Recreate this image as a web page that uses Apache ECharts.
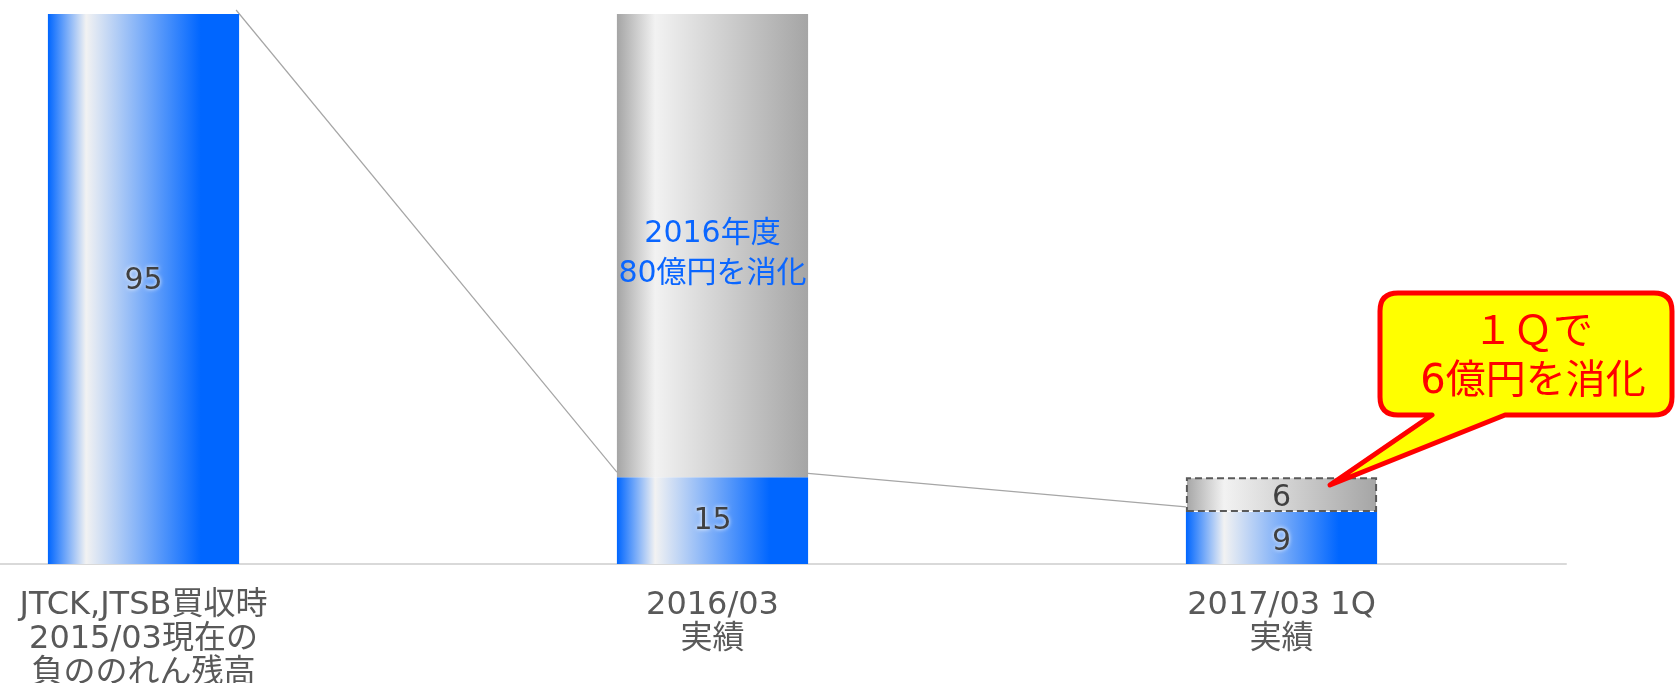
<!DOCTYPE html>
<html>
<head>
<meta charset="utf-8">
<script src="https://cdn.jsdelivr.net/npm/echarts@6/dist/echarts.min.js"></script>
<style>
  html, body { margin: 0; padding: 0; background: #fff; }
  #chart { width: 1675px; height: 683px; }
</style>
</head>
<body>
<div id="chart"></div>
<script>
  // 区分
  const categories = ['JTCK,JTSB買収時\n2015/03現在の\n負ののれん残高', '2016/03\n実績', '2017/03 1Q\n実績']
  // 負ののれん残高（億円）
  const remaining = [95, 15, 9]
  // 消化額（億円）
  const consumed = [null, 80, 6]
  const consumedLabels = ['', '2016年度\n80億円を消化', '6']
  // 残高どうしをつなぐ線 [from, to]
  const links = [[0, 1], [1, 2]]

  const FONT = '"DejaVu Sans", "Noto Sans CJK JP", sans-serif'
  const BAR_RATIO = 0.336

  const blueFill = {
    type: 'linear', x: 0, y: 0, x2: 1, y2: 0,
    colorStops: [
      { offset: 0, color: '#0066ff' },
      { offset: 0.2, color: '#f2f2f2' },
      { offset: 0.8, color: '#0066ff' },
      { offset: 1, color: '#0066ff' }
    ]
  }
  const grayFill = {
    type: 'linear', x: 0, y: 0, x2: 1, y2: 0,
    colorStops: [
      { offset: 0, color: '#a5a5a5' },
      { offset: 0.2, color: '#f2f2f2' },
      { offset: 1, color: '#a5a5a5' }
    ]
  }
  // ラベル位置の微調整
  const remainingLabelOffset = [[0, -8], [0, 1], [0, 4]]

  let chart = echarts.init(document.getElementById('chart'))
  chart.setOption({
    animation: false,
    textStyle: { fontFamily: FONT },
    // 左端の区分は少し画面外にはみ出す
    grid: { left: -141, right: 109, top: 14, bottom: 119, containLabel: false, outerBoundsMode: 'none' },
    xAxis: {
      type: 'category',
      data: categories,
      axisTick: { show: false },
      axisLine: { lineStyle: { color: '#d9d9d9', width: 2 } },
      axisLabel: {
        color: '#595959',
        fontSize: 32,
        lineHeight: 34,
        margin: 25,
        fontFamily: FONT,
        interval: 0
      }
    },
    yAxis: { type: 'value', min: 0, max: 95, show: false, splitLine: { show: false } },
    series: [
      {
        name: 'link',
        type: 'custom',
        z: 1,
        silent: true,
        data: links.map(l => [l[0], remaining[l[0]], l[1], remaining[l[1]]]),
        encode: { x: [0, 2], y: [1, 3] },
        renderItem: function (params, api) {
          let a = api.coord([api.value(0), api.value(1)])
          let b = api.coord([api.value(2), api.value(3)])
          let half = api.size([1, 0])[0] * BAR_RATIO / 2
          return {
            type: 'line',
            shape: { x1: a[0] + half - 3, y1: a[1] - 4, x2: b[0] - half, y2: b[1] - 5 },
            style: { stroke: '#a6a6a6', lineWidth: 1.2 }
          }
        }
      },
      {
        name: '残高',
        type: 'bar',
        stack: 'total',
        z: 2,
        barWidth: (BAR_RATIO * 100) + '%',
        itemStyle: { color: blueFill },
        label: {
          show: true,
          position: 'inside',
          color: '#404040',
          fontSize: 30,
          fontFamily: FONT,
          textShadowColor: '#ffffff',
          textShadowBlur: 4
        },
        data: remaining.map((v, i) => ({ value: v, label: { offset: remainingLabelOffset[i] } }))
      },
      {
        name: '消化',
        type: 'bar',
        stack: 'total',
        z: 2,
        barWidth: (BAR_RATIO * 100) + '%',
        itemStyle: { color: grayFill },
        label: {
          show: true,
          position: 'inside',
          color: '#404040',
          fontSize: 30,
          fontFamily: FONT,
          formatter: p => consumedLabels[p.dataIndex]
        },
        data: consumed.map((v, i) => {
          if (i === 1) {
            return {
              value: v,
              label: { color: '#0a66ff', fontSize: 30, lineHeight: 40, offset: [0, 9] }
            }
          }
          if (i === 2) {
            return {
              value: v,
              label: { offset: [0, 4] },
              itemStyle: { borderColor: '#595959', borderWidth: 2, borderType: [7, 4] }
            }
          }
          return v
        })
      },
      {
        // 吹き出し
        name: 'callout',
        type: 'custom',
        coordinateSystem: 'none',
        z: 10,
        silent: true,
        data: [0],
        renderItem: function () {
          return {
            type: 'group',
            children: [
              {
                type: 'path',
                shape: {
                  pathData: 'M1398 293 H1654 Q1672 293 1672 311 V397 Q1672 415 1654 415 H1505 L1330 485 L1432 415 H1398 Q1380 415 1380 397 V311 Q1380 293 1398 293 Z'
                },
                style: { fill: '#ffff00', stroke: '#ff0000', lineWidth: 5, lineJoin: 'round' }
              },
              {
                type: 'text',
                x: 1533,
                y: 358,
                style: {
                  text: '１Ｑで\n6億円を消化',
                  fill: '#ff0000',
                  font: '40px ' + FONT,
                  lineHeight: 49,
                  align: 'center',
                  verticalAlign: 'middle'
                }
              }
            ]
          }
        }
      }
    ]
  })
</script>
</body>
</html>
